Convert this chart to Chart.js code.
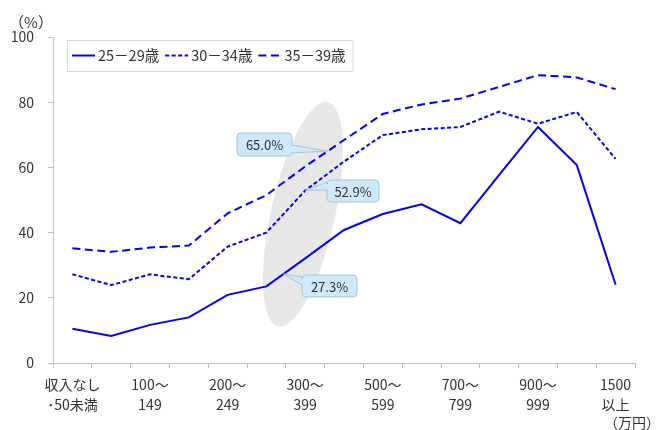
<!DOCTYPE html>
<html lang="ja">
<head>
<meta charset="utf-8">
<title>年収別 有配偶率</title>
<script src="https://cdn.jsdelivr.net/npm/chart.js@4.4.1/dist/chart.umd.min.js"></script>
<style>
  html, body { margin: 0; padding: 0; background: #fff; }
  #wrap { width: 656px; height: 430px; }
</style>
</head>
<body>
<div id="wrap"><canvas id="chart" width="656" height="430"></canvas></div>
<script>
// === 年収別・年齢別の有配偶率 ===

const categories = ['収入なし・50未満', '50～99', '100～149', '150～199', '200～249', '250～299', '300～399',
  '400～499', '500～599', '600～699', '700～799', '800～899', '900～999', '1000～1499', '1500以上'];

// only every other class gets a label under the axis
const tickLabels = [['収入なし', '･50未満'], '', ['100～', '149'], '', ['200～', '249'], '', ['300～', '399'], '',
  ['500～', '599'], '', ['700～', '799'], '', ['900～', '999'], '', ['1500', '以上']];

const seriesNames = ['25－29歳', '30－34歳', '35－39歳'];
const age25to29 = [10.5, 8.3, 11.7, 14.0, 20.9, 23.5, 32.1, 40.8, 45.7, 48.7, 42.9, 57.7, 72.4, 60.7, 24.0];
const age30to34 = [27.2, 23.9, 27.2, 25.7, 35.7, 40.0, 52.9, 61.8, 69.9, 71.7, 72.4, 77.1, 73.4, 77.0, 62.6];
const age35to39 = [35.2, 34.1, 35.4, 36.0, 45.9, 51.5, 60.3, 68.4, 76.4, 79.3, 81.1, 84.7, 88.3, 87.6, 84.0];

const yTicks = [0, 20, 40, 60, 80, 100];

// values called out around the 300万円 band
const calloutValues = [27.3, 52.9, 65.0];

const FONT = "'Noto Sans CJK JP', 'Noto Sans', sans-serif";
const TEXT = '#333333';
const AXIS = '#bfbfbf';
const BLUE = '#0000ff';

Chart.defaults.font.family = FONT;
Chart.defaults.color = TEXT;

// callout boxes: which series, where the search for the crossing starts, box and wedge
const callouts = [
  { series: 0, value: calloutValues[0], from: 5, box: { x: 302, y: 275, w: 55, h: 22 }, side: 'left', base: [2, 10] },
  { series: 1, value: calloutValues[1], from: 5, box: { x: 327, y: 180, w: 52, h: 22 }, side: 'left', base: [2, 10] },
  { series: 2, value: calloutValues[2], from: 6, box: { x: 237, y: 133, w: 55, h: 23 }, side: 'right', base: [12, 20] }
];

// fractional index where a series first reaches a value
function crossingIndex(values, v, from) {
  for (let i = from; i < values.length - 1; i++) {
    const a = values[i], b = values[i + 1];
    if ((v - a) * (v - b) <= 0 && a !== b) return i + (v - a) / (b - a);
  }
  return from;
}

function calloutPath(ctx, b, r, side, base, tx, ty) {
  const { x, y, w, h } = b;
  ctx.beginPath();
  ctx.moveTo(x + r, y);
  ctx.lineTo(x + w - r, y);
  ctx.arcTo(x + w, y, x + w, y + r, r);
  if (side === 'right') {
    ctx.lineTo(x + w, y + base[0]);
    ctx.lineTo(tx, ty);
    ctx.lineTo(x + w, y + base[1]);
  }
  ctx.lineTo(x + w, y + h - r);
  ctx.arcTo(x + w, y + h, x + w - r, y + h, r);
  ctx.lineTo(x + r, y + h);
  ctx.arcTo(x, y + h, x, y + h - r, r);
  if (side === 'left') {
    ctx.lineTo(x, y + base[1]);
    ctx.lineTo(tx, ty);
    ctx.lineTo(x, y + base[0]);
  }
  ctx.lineTo(x, y + r);
  ctx.arcTo(x, y, x + r, y, r);
  ctx.closePath();
}

const bandPlugin = {
  id: 'band',
  beforeDatasetsDraw(chart) {
    const { ctx, scales: { x, y } } = chart;
    const cx = x.getPixelForValue(5.94);
    const cy = y.getPixelForValue(45.6);
    ctx.save();
    ctx.fillStyle = '#e7e7e7';
    ctx.beginPath();
    ctx.ellipse(cx, cy, 32, 115, 0.218, 0, Math.PI * 2);
    ctx.fill();
    ctx.restore();
  }
};

const calloutPlugin = {
  id: 'callouts',
  afterDatasetsDraw(chart) {
    const { ctx, scales: { x, y } } = chart;
    callouts.forEach(c => {
      const values = chart.data.datasets[c.series].data;
      const tx = x.getPixelForValue(crossingIndex(values, c.value, c.from));
      const ty = y.getPixelForValue(c.value);
      ctx.save();
      calloutPath(ctx, c.box, 4, c.side, c.base, tx, ty);
      ctx.fillStyle = '#cde9fb';
      ctx.fill();
      ctx.strokeStyle = '#a7c3d6';
      ctx.lineWidth = 1;
      ctx.stroke();
      ctx.fillStyle = TEXT;
      ctx.font = `13px ${FONT}`;
      ctx.textAlign = 'center';
      ctx.textBaseline = 'middle';
      ctx.fillText(c.value.toFixed(1) + '%', c.box.x + c.box.w / 2, c.box.y + c.box.h / 2 + 1);
      ctx.restore();
    });
  }
};

// legend in a bordered box inside the plot, plus the unit labels
const legendPlugin = {
  id: 'boxLegend',
  afterDraw(chart) {
    const { ctx } = chart;
    const top = 40, h = 31, left = 67, midY = top + h / 2;
    ctx.save();
    ctx.font = `14.5px ${FONT}`;
    let px = left + 5;
    const parts = chart.data.datasets.map(ds => {
      const item = { ds, x: px };
      px += 23 + 3 + ctx.measureText(ds.label).width + 6;
      return item;
    });
    const right = px + 1;
    ctx.fillStyle = '#fff';
    ctx.fillRect(left + 0.5, top + 0.5, right - left, h);
    ctx.strokeStyle = '#d9d9d9';
    ctx.lineWidth = 1;
    ctx.strokeRect(left + 0.5, top + 0.5, right - left, h);

    parts.forEach(({ ds, x }) => {
      ctx.strokeStyle = ds.borderColor;
      ctx.lineWidth = ds.borderWidth;
      ctx.setLineDash(ds.borderDash || []);
      ctx.beginPath();
      ctx.moveTo(x, midY);
      ctx.lineTo(x + 23, midY);
      ctx.stroke();
      ctx.setLineDash([]);
      ctx.fillStyle = TEXT;
      ctx.textAlign = 'left';
      ctx.textBaseline = 'middle';
      ctx.fillText(ds.label, x + 26, midY);
    });

    ctx.font = `15px ${FONT}`;
    ctx.textBaseline = 'middle';
    ctx.textAlign = 'center';
    ctx.fillText('（%）', 31, 22);
    ctx.font = `14px ${FONT}`;
    ctx.textAlign = 'left';
    ctx.fillText('（万円）', 604, 423);
    ctx.restore();
  }
};

new Chart(document.getElementById('chart'), {
  type: 'line',
  data: {
    labels: categories,
    datasets: [
      { label: seriesNames[0], data: age25to29, borderColor: BLUE, borderWidth: 2, borderDash: [] },
      { label: seriesNames[1], data: age30to34, borderColor: BLUE, borderWidth: 2, borderDash: [4, 2.5] },
      { label: seriesNames[2], data: age35to39, borderColor: BLUE, borderWidth: 2, borderDash: [8, 4.5] }
    ]
  },
  options: {
    responsive: false,
    animation: false,
    layout: { padding: { top: 37, right: 21, bottom: 0, left: 0 } },
    elements: {
      point: { radius: 0, hoverRadius: 0 },
      line: { tension: 0, fill: false, borderCapStyle: 'butt' }
    },
    plugins: {
      legend: { display: false },
      tooltip: { enabled: false }
    },
    scales: {
      x: {
        offset: true,
        grid: { offset: true, drawOnChartArea: false, drawTicks: true, tickLength: 5, color: AXIS },
        border: { color: AXIS },
        ticks: {
          autoSkip: false,
          maxRotation: 0,
          padding: 7,
          font: { size: 14, lineHeight: 20 / 14 },
          callback: (v, i) => tickLabels[i]
        },
        afterFit: s => { s.height = 67; }
      },
      y: {
        min: 0,
        max: 100,
        grid: { drawOnChartArea: false, drawTicks: true, tickLength: 5, color: AXIS },
        border: { color: AXIS },
        afterBuildTicks: s => { s.ticks = yTicks.map(v => ({ value: v })); },
        ticks: { padding: 14, font: { size: 14 } },
        afterFit: s => { s.width = 53; }
      }
    }
  },
  plugins: [bandPlugin, calloutPlugin, legendPlugin]
});
</script>
</body>
</html>
